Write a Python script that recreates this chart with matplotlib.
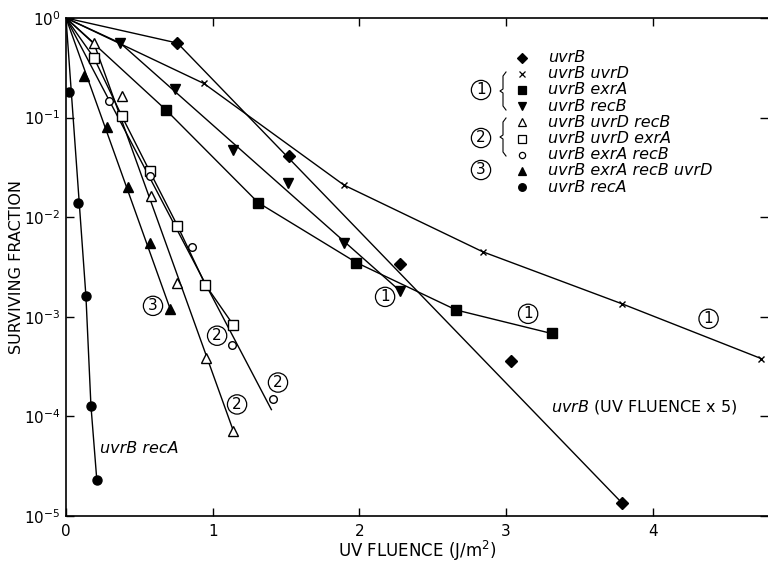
import numpy as np
import matplotlib.pyplot as plt

plt.rcParams['font.family'] = 'DejaVu Sans'
plt.rcParams['mathtext.default'] = 'regular'

# survival data, UV fluence in J/m^2 (uvrB itself is plotted at fluence / 5)
uvrB_x = [0.76, 1.52, 2.28, 3.03, 3.79]
uvrB_y = [0.56, 0.041, 0.0034, 3.6e-4, 1.35e-5]
uvrB_fit_x = [0, 0.76, 3.79]
uvrB_fit_y = [1, 0.56, 1.35e-5]

uvrD_x = [0.94, 1.895, 2.84, 3.79, 4.74]
uvrD_y = [0.22, 0.021, 0.0045, 1.35e-3, 3.8e-4]

exrA_x = [0.68, 1.31, 1.98, 2.66, 3.31]
exrA_y = [0.12, 0.014, 0.0035, 1.17e-3, 6.8e-4]

recB_x = [0.37, 0.74, 1.14, 1.51, 1.895, 2.28]
recB_y = [0.56, 0.194, 0.047, 0.022, 0.0055, 0.0018]
recB_fit_x = [0, 0.37, 2.28]
recB_fit_y = [1, 0.56, 0.0018]

uvrD_recB_x = [0.19, 0.38, 0.58, 0.76, 0.955, 1.14]
uvrD_recB_y = [0.56, 0.165, 0.0164, 0.0022, 3.9e-4, 7.2e-5]
uvrD_recB_fit_x = [0, 0.19, 1.14]
uvrD_recB_fit_y = [1, 0.56, 7.2e-5]

uvrD_exrA_x = [0.19, 0.38, 0.57, 0.76, 0.95, 1.14]
uvrD_exrA_y = [0.40, 0.104, 0.029, 0.0082, 0.0021, 8.3e-4]

exrA_recB_x = [0.29, 0.57, 0.86, 1.13, 1.41]
exrA_recB_y = [0.148, 0.026, 0.005, 5.2e-4, 1.5e-4]
exrA_recB_fit_x = [0, 1.40]
exrA_recB_fit_y = [1, 1.17e-4]

quad_x = [0.125, 0.28, 0.42, 0.57, 0.71]
quad_y = [0.26, 0.081, 0.020, 0.0055, 1.2e-3]
quad_fit_x = [0, 0.71]
quad_fit_y = [1, 1.2e-3]

recA_x = [0.02, 0.08, 0.136, 0.17, 0.21]
recA_y = [0.18, 0.014, 0.0016, 1.28e-4, 2.3e-5]
recA_fit_x = [0, 0.136, 0.17, 0.21]
recA_fit_y = [1, 0.0016, 1.28e-4, 2.3e-5]

labels = ['uvrB', 'uvrB uvrD', 'uvrB exrA', 'uvrB recB', 'uvrB uvrD recB',
          'uvrB uvrD exrA', 'uvrB exrA recB', 'uvrB exrA recB uvrD', 'uvrB recA']

# (points x, points y, line x, line y, marker, size, filled)
series = [
    (uvrB_x, uvrB_y, uvrB_fit_x, uvrB_fit_y, 'D', 6.5, True),
    (uvrD_x, uvrD_y, [0] + uvrD_x, [1] + uvrD_y, 'x', 5, True),
    (exrA_x, exrA_y, [0] + exrA_x, [1] + exrA_y, 's', 7, True),
    (recB_x, recB_y, recB_fit_x, recB_fit_y, 'v', 7.5, True),
    (uvrD_recB_x, uvrD_recB_y, uvrD_recB_fit_x, uvrD_recB_fit_y, '^', 7.5, False),
    (uvrD_exrA_x, uvrD_exrA_y, [0] + uvrD_exrA_x, [1] + uvrD_exrA_y, 's', 7, False),
    (exrA_recB_x, exrA_recB_y, exrA_recB_fit_x, exrA_recB_fit_y, 'o', 5.5, False),
    (quad_x, quad_y, quad_fit_x, quad_fit_y, '^', 7.5, True),
    (recA_x, recA_y, recA_fit_x, recA_fit_y, 'o', 6.5, True),
]

# circled group numbers next to the curves
circles = [('3', 0.593, 10**-2.89), ('2', 1.03, 10**-3.19), ('2', 1.166, 10**-3.88),
           ('2', 1.445, 10**-3.66), ('1', 2.175, 10**-2.80), ('1', 3.15, 10**-2.97),
           ('1', 4.38, 10**-3.02)]

fig = plt.figure(figsize=(7.68, 5.66), dpi=100)
ax = fig.add_axes([66/768, 50/566, 702/768, 498/566])

for px, py, lx, ly, m, ms, filled in series:
    ax.plot(lx, ly, color='black', lw=1.0, zorder=2)
    ax.plot(px, py, linestyle='none', marker=m, ms=ms, mec='black', mew=1.0,
            mfc='black' if filled else 'white', zorder=3)

for t, x, y in circles:
    ax.text(x, y, t, fontsize=11, ha='center', va='center',
            bbox=dict(boxstyle='circle,pad=0.14', fc='white', ec='black', lw=0.9))

ax.text(0.232, 10**-4.32, 'uvrB recA', fontsize=11.5, style='italic', va='center')
ax.text(3.306, 10**-3.91, r'$\mathit{uvrB}$ (UV FLUENCE x 5)', fontsize=11.5, va='center')

# legend drawn by hand (axes fraction coordinates)
for i, (s, lab) in enumerate(zip(series, labels)):
    yf = (516 - (57.5 + 16.2 * i)) / 498
    m, filled = s[4], s[6]
    ms = {'x': 4.5, 'o': 4.5}.get(m, 5.5)
    if m == 'o' and filled:
        ms = 5.5
    ax.plot([0.6496], [yf], transform=ax.transAxes, marker=m, ms=ms, mec='black',
            mew=0.9, mfc='black' if filled else 'white', linestyle='none', clip_on=False)
    ax.text(0.6866, yf, lab, transform=ax.transAxes, fontsize=11.5, style='italic',
            va='center', ha='left')

for t, py in [('1', 90), ('2', 138), ('3', 170)]:
    ax.text((481 - 66) / 702, (516 - py) / 498, t, transform=ax.transAxes, fontsize=11,
            ha='center', va='center',
            bbox=dict(boxstyle='circle,pad=0.14', fc='white', ec='black', lw=0.9))

# thin braces grouping legend rows
for top, bot in [(72, 110), (118, 156)]:
    mid = (top + bot) / 2
    bx = [506, 503, 503, 500, 503, 503, 506]
    by = [top, top + 4, mid - 2, mid, mid + 2, bot - 4, bot]
    ax.plot([(v - 66) / 702 for v in bx], [(516 - v) / 498 for v in by],
            transform=ax.transAxes, color='black', lw=0.8, clip_on=False)

ax.set_yscale('log')
ax.set_xlim(0, 4.785)
ax.set_ylim(1e-5, 1)
ax.set_xticks([0, 1, 2, 3, 4])
ax.set_yticks([1, 1e-1, 1e-2, 1e-3, 1e-4, 1e-5])
ax.set_yticklabels(['$10^{%d}$' % e for e in [0, -1, -2, -3, -4, -5]])
ax.minorticks_off()
ax.tick_params(axis='both', direction='in', length=6, width=1.0, top=True, right=True)
ax.tick_params(axis='y', labelsize=11, pad=4)
ax.tick_params(axis='x', labelsize=11, pad=6)
ax.spines['right'].set_visible(False)
for sp in ['left', 'bottom', 'top']:
    ax.spines[sp].set_linewidth(1.2)

ax.set_xlabel('UV FLUENCE (J/m$^2$)', fontsize=12, labelpad=0)
ax.set_ylabel('SURVIVING FRACTION', fontsize=11.5)
ax.yaxis.set_label_coords(-(66 - 24) / 702, 0.5)

plt.savefig('out.png', dpi=100)
